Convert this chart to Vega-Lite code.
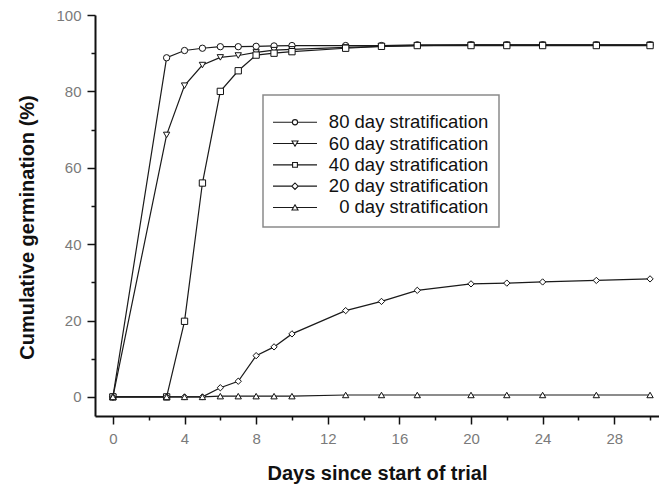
{
  "$schema": "https://vega.github.io/schema/vega-lite/v6.json",
  "width": 564,
  "height": 401,
  "autosize": {"type": "none"},
  "padding": {"left": 95, "top": 15, "right": 0, "bottom": 71},
  "background": "white",
  "config": {"view": {"stroke": null}, "font": "Liberation Sans", "legend": {"strokeWidth": 1.5}},
  "data": {"values": [
    {"series":"80 day stratification","strat":80,"day":0,"pct":0},
    {"series":"80 day stratification","strat":80,"day":3,"pct":88.8},
    {"series":"80 day stratification","strat":80,"day":4,"pct":90.7},
    {"series":"80 day stratification","strat":80,"day":5,"pct":91.3},
    {"series":"80 day stratification","strat":80,"day":6,"pct":91.7},
    {"series":"80 day stratification","strat":80,"day":7,"pct":91.7},
    {"series":"80 day stratification","strat":80,"day":8,"pct":91.8},
    {"series":"80 day stratification","strat":80,"day":9,"pct":91.9},
    {"series":"80 day stratification","strat":80,"day":10,"pct":92},
    {"series":"80 day stratification","strat":80,"day":13,"pct":92},
    {"series":"80 day stratification","strat":80,"day":15,"pct":92},
    {"series":"80 day stratification","strat":80,"day":17,"pct":92.2},
    {"series":"80 day stratification","strat":80,"day":20,"pct":92.2},
    {"series":"80 day stratification","strat":80,"day":22,"pct":92.2},
    {"series":"80 day stratification","strat":80,"day":24,"pct":92.2},
    {"series":"80 day stratification","strat":80,"day":27,"pct":92.2},
    {"series":"80 day stratification","strat":80,"day":30,"pct":92.2},
    {"series":"60 day stratification","strat":60,"day":0,"pct":0},
    {"series":"60 day stratification","strat":60,"day":3,"pct":68.6},
    {"series":"60 day stratification","strat":60,"day":4,"pct":81.5},
    {"series":"60 day stratification","strat":60,"day":5,"pct":86.9},
    {"series":"60 day stratification","strat":60,"day":6,"pct":88.9},
    {"series":"60 day stratification","strat":60,"day":7,"pct":89.4},
    {"series":"60 day stratification","strat":60,"day":8,"pct":90.2},
    {"series":"60 day stratification","strat":60,"day":9,"pct":90.8},
    {"series":"60 day stratification","strat":60,"day":10,"pct":91},
    {"series":"60 day stratification","strat":60,"day":13,"pct":91.5},
    {"series":"60 day stratification","strat":60,"day":15,"pct":91.8},
    {"series":"60 day stratification","strat":60,"day":17,"pct":92},
    {"series":"60 day stratification","strat":60,"day":20,"pct":92.2},
    {"series":"60 day stratification","strat":60,"day":22,"pct":92.2},
    {"series":"60 day stratification","strat":60,"day":24,"pct":92.2},
    {"series":"60 day stratification","strat":60,"day":27,"pct":92.2},
    {"series":"60 day stratification","strat":60,"day":30,"pct":92.2},
    {"series":"40 day stratification","strat":40,"day":0,"pct":0},
    {"series":"40 day stratification","strat":40,"day":3,"pct":0},
    {"series":"40 day stratification","strat":40,"day":4,"pct":19.8},
    {"series":"40 day stratification","strat":40,"day":5,"pct":56},
    {"series":"40 day stratification","strat":40,"day":6,"pct":80},
    {"series":"40 day stratification","strat":40,"day":7,"pct":85.4},
    {"series":"40 day stratification","strat":40,"day":8,"pct":89.5},
    {"series":"40 day stratification","strat":40,"day":9,"pct":90},
    {"series":"40 day stratification","strat":40,"day":10,"pct":90.4},
    {"series":"40 day stratification","strat":40,"day":13,"pct":91.3},
    {"series":"40 day stratification","strat":40,"day":15,"pct":91.8},
    {"series":"40 day stratification","strat":40,"day":17,"pct":92},
    {"series":"40 day stratification","strat":40,"day":20,"pct":92},
    {"series":"40 day stratification","strat":40,"day":22,"pct":92},
    {"series":"40 day stratification","strat":40,"day":24,"pct":92},
    {"series":"40 day stratification","strat":40,"day":27,"pct":92},
    {"series":"40 day stratification","strat":40,"day":30,"pct":92},
    {"series":"20 day stratification","strat":20,"day":0,"pct":0},
    {"series":"20 day stratification","strat":20,"day":3,"pct":0},
    {"series":"20 day stratification","strat":20,"day":4,"pct":0},
    {"series":"20 day stratification","strat":20,"day":5,"pct":0},
    {"series":"20 day stratification","strat":20,"day":6,"pct":2.4},
    {"series":"20 day stratification","strat":20,"day":7,"pct":4.1},
    {"series":"20 day stratification","strat":20,"day":8,"pct":10.8},
    {"series":"20 day stratification","strat":20,"day":9,"pct":13.1},
    {"series":"20 day stratification","strat":20,"day":10,"pct":16.5},
    {"series":"20 day stratification","strat":20,"day":13,"pct":22.6},
    {"series":"20 day stratification","strat":20,"day":15,"pct":25},
    {"series":"20 day stratification","strat":20,"day":17,"pct":27.9},
    {"series":"20 day stratification","strat":20,"day":20,"pct":29.6},
    {"series":"20 day stratification","strat":20,"day":22,"pct":29.8},
    {"series":"20 day stratification","strat":20,"day":24,"pct":30.1},
    {"series":"20 day stratification","strat":20,"day":27,"pct":30.5},
    {"series":"20 day stratification","strat":20,"day":30,"pct":30.9},
    {"series":"0 day stratification","strat":0,"day":0,"pct":0},
    {"series":"0 day stratification","strat":0,"day":3,"pct":0},
    {"series":"0 day stratification","strat":0,"day":4,"pct":0},
    {"series":"0 day stratification","strat":0,"day":5,"pct":0},
    {"series":"0 day stratification","strat":0,"day":6,"pct":0.2},
    {"series":"0 day stratification","strat":0,"day":7,"pct":0.2},
    {"series":"0 day stratification","strat":0,"day":8,"pct":0.2},
    {"series":"0 day stratification","strat":0,"day":9,"pct":0.2},
    {"series":"0 day stratification","strat":0,"day":10,"pct":0.2},
    {"series":"0 day stratification","strat":0,"day":13,"pct":0.5},
    {"series":"0 day stratification","strat":0,"day":15,"pct":0.5},
    {"series":"0 day stratification","strat":0,"day":17,"pct":0.5},
    {"series":"0 day stratification","strat":0,"day":20,"pct":0.5},
    {"series":"0 day stratification","strat":0,"day":22,"pct":0.5},
    {"series":"0 day stratification","strat":0,"day":24,"pct":0.5},
    {"series":"0 day stratification","strat":0,"day":27,"pct":0.5},
    {"series":"0 day stratification","strat":0,"day":30,"pct":0.5}
  ]},
  "encoding": {
    "x": {
      "field": "day", "type": "quantitative",
      "scale": {"domain": [-1, 30.5], "nice": false, "zero": false},
      "axis": {
        "title": "Days since start of trial",
        "values": [0,2,4,6,8,10,12,14,16,18,20,22,24,26,28,30],
        "labelExpr": "datum.value % 4 === 0 ? datum.label : ''",
        "grid": false,
        "domainColor": "#111", "domainWidth": 2,
        "tickColor": "#111", "tickWidth": 1.5,
        "tickSize": {"condition": {"test": "datum.value % 4 !== 0", "value": 4}, "value": 8},
        "labelFontSize": 15, "labelColor": "#7a7a7a", "labelPadding": 7, "labelFlush": false,
        "titleFontSize": 20, "titleFontWeight": "bold", "titleColor": "#111", "titlePadding": 17
      }
    },
    "y": {
      "field": "pct", "type": "quantitative",
      "scale": {"domain": [-5, 100], "nice": false, "zero": false},
      "axis": {
        "title": "Cumulative germination (%)",
        "values": [0,10,20,30,40,50,60,70,80,90,100],
        "labelExpr": "datum.value % 20 === 0 ? datum.label : ''",
        "grid": false,
        "domainColor": "#111", "domainWidth": 2,
        "tickColor": "#111", "tickWidth": 1.5,
        "tickSize": {"condition": {"test": "datum.value % 20 !== 0", "value": 4}, "value": 8},
        "labelFontSize": 15, "labelColor": "#7a7a7a", "labelPadding": 6, "labelFlush": false,
        "titleFontSize": 20, "titleFontWeight": "bold", "titleColor": "#111",
        "titleX": -67.5, "titleY": 212, "titleAlign": "center", "titleBaseline": "middle", "titleAngle": -90
      }
    }
  },
  "layer": [
    {
      "mark": {"type": "line", "strokeWidth": 1.2},
      "encoding": {
        "color": {
          "field": "series", "type": "nominal",
          "scale": {"domain": ["80 day stratification","60 day stratification","40 day stratification","20 day stratification","0 day stratification"], "range": ["#1a1a1a","#1a1a1a","#1a1a1a","#1a1a1a","#1a1a1a"]},
          "legend": {
            "orient": "none", "legendX": 168, "legendY": 80, "title": " ", "titleFontSize": 4, "titlePadding": 4,
            "padding": 10, "fillColor": "white", "strokeColor": "#8a8a8a",
            "symbolType": "circle", "symbolSize": 4, "symbolStrokeWidth": 1.1, "symbolOffset": 12.75,
            "labelFontSize": 18.5, "labelColor": "#111", "labelAlign": "right", "labelOffset": 184, "rowPadding": 2.3,
            "encode": {"symbols": {"update": {
              "shape": {"signal": "datum.value === '80 day stratification' ? 'M-22,0H-2.6M2.6,0H22M2.6,0A2.6,2.6,0,1,1,-2.6,0A2.6,2.6,0,1,1,2.6,0Z' : datum.value === '60 day stratification' ? 'M-22,0H-1.5M1.5,0H22M-3,-2.6L3,-2.6L0,2.6Z' : datum.value === '40 day stratification' ? 'M-22,0H-2.4M2.4,0H22M-2.4,-2.4H2.4V2.4H-2.4Z' : datum.value === '20 day stratification' ? 'M-22,0H-3.2M3.2,0H22M-3.2,0L0,-3.2L3.2,0L0,3.2Z' : 'M-22,0H-1.5M1.5,0H22M0,-2.6L3,2.6L-3,2.6Z'"},
              "size": {"value": 4},
              "fill": {"value": "white"},
              "fillOpacity": {"value": 1},
              "stroke": {"value": "#111"},
              "strokeWidth": {"value": 1.1},
              "opacity": {"value": 1}
            }}}
          }
        }
      }
    },
    {
      "mark": {"type": "point", "filled": false, "fill": "white", "stroke": "#111", "strokeWidth": 1, "size": 40, "opacity": 1},
      "encoding": {
        "shape": {
          "field": "strat", "type": "nominal",
          "scale": {"domain": [80, 60, 40, 20, 0], "range": ["circle", "triangle-down", "square", "diamond", "triangle-up"]},
          "legend": null
        }
      }
    }
  ]
}
